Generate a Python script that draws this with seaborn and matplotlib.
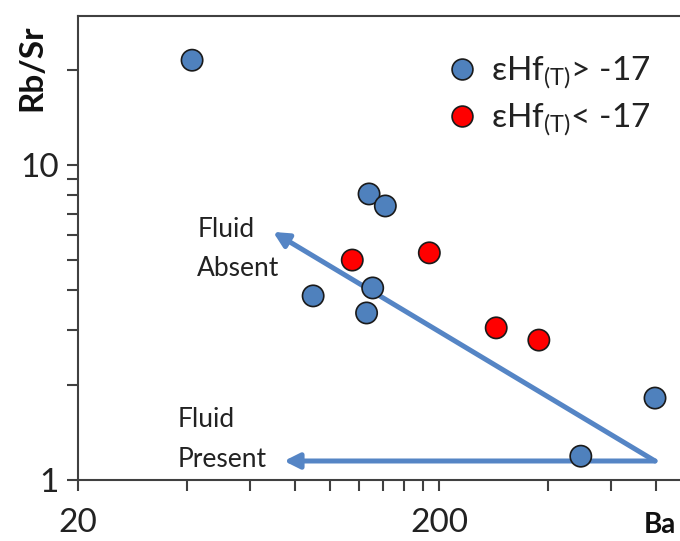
import numpy as np
import pandas as pd
import matplotlib
matplotlib.use("Agg")
import matplotlib.pyplot as plt
from matplotlib.lines import Line2D
import seaborn as sns

# data (Ba vs Rb/Sr, log-log)
ba_high = [41.4, 128, 142, 89.6, 131, 126, 494, 793]
rbsr_high = [21.5, 8.09, 7.41, 3.84, 4.07, 3.39, 1.19, 1.82]
ba_low = [115, 188, 288, 378]
rbsr_low = [4.99, 5.26, 3.04, 2.78]
groups = ["εHf$_{(T)}$> -17", "εHf$_{(T)}$< -17"]

# arrow end points (data coords)
arrow_start = (793, 1.149)
arrow_absent = (69.4, 6.13)
arrow_present = (74.4, 1.149)

sns.set_style("ticks")
plt.rcParams["font.family"] = ["Lato", "DejaVu Sans"]
plt.rcParams["mathtext.fontset"] = "custom"
plt.rcParams["mathtext.rm"] = "Lato"
plt.rcParams["mathtext.default"] = "regular"

df = pd.DataFrame({
    "Ba": ba_high + ba_low,
    "RbSr": rbsr_high + rbsr_low,
    "group": [groups[0]] * len(ba_high) + [groups[1]] * len(ba_low),
})

blue = "#4F81BD"
red = "#FF0000"
line_blue = "#5585C5"
txt = "#222222"

fig = plt.figure(figsize=(6.8, 5.41), dpi=100)
ax = fig.add_axes([78 / 680, 1 - 480 / 541, 1 - 78 / 680, (480 - 16) / 541])

for a, b in [(arrow_start, arrow_absent), (arrow_start, arrow_present)]:
    ax.annotate("", xy=b, xytext=a,
                arrowprops=dict(arrowstyle="-|>,head_length=0.9,head_width=0.45",
                                color=line_blue, lw=3.6, shrinkA=0, shrinkB=0))

sns.scatterplot(data=df, x="Ba", y="RbSr", hue="group",
                palette={groups[0]: blue, groups[1]: red},
                s=235, edgecolor="#1a1a1a", linewidth=1.2, ax=ax, zorder=3,
                legend=False)

ax.set_xscale("log")
ax.set_yscale("log")
ax.set_xlim(20, 930)
ax.set_ylim(1, 29.7)

ax.set_xticks([20, 200])
ax.set_xticklabels(["20", "200"])
ax.set_xticks([40, 60, 80, 100, 120, 140, 160, 180, 400, 600, 800], minor=True)
ax.set_yticks([1, 10])
ax.set_yticklabels(["1", "10"])
ax.set_yticks([2, 3, 4, 5, 6, 7, 8, 9, 20], minor=True)
ax.xaxis.set_minor_formatter(plt.NullFormatter())
ax.yaxis.set_minor_formatter(plt.NullFormatter())

ax.tick_params(axis="both", which="both", direction="out", length=8,
               width=1.5, color="#404040", labelsize=24, labelcolor=txt)
ax.tick_params(axis="x", pad=12)
ax.tick_params(axis="y", pad=6)

for side in ["left", "bottom", "top"]:
    ax.spines[side].set_color("#404040")
    ax.spines[side].set_linewidth(1.5)
ax.spines["right"].set_visible(False)
ax.set_xlabel("")
ax.set_ylabel("")

fig.text(676 / 680, 1 - 538 / 541, "Ba", fontsize=20, fontweight="bold",
         ha="right", va="bottom", color="#111111")
fig.text(32 / 680, 1 - 68 / 541, "Rb/Sr", fontsize=24, fontweight="bold",
         rotation=90, ha="center", va="center", color="#111111")

ax.text(0.199, 0.524, "Fluid", fontsize=19, ha="left", va="baseline",
        color=txt, transform=ax.transAxes)
ax.text(0.198, 0.440, "Absent", fontsize=19, ha="left", va="baseline",
        color=txt, transform=ax.transAxes)
ax.text(0.166, 0.114, "Fluid", fontsize=19, ha="left", va="baseline",
        color=txt, transform=ax.transAxes)
ax.text(0.166, 0.028, "Present", fontsize=19, ha="left", va="baseline",
        color=txt, transform=ax.transAxes)

handles = [Line2D([], [], marker="o", ls="", markersize=15, markerfacecolor=blue,
                  markeredgecolor="#1a1a1a", markeredgewidth=1.2),
           Line2D([], [], marker="o", ls="", markersize=15, markerfacecolor=red,
                  markeredgecolor="#1a1a1a", markeredgewidth=1.2)]
leg = ax.legend(handles, groups, loc="upper left", bbox_to_anchor=(0.561, 0.981),
                frameon=False, fontsize=24, handletextpad=0.35, labelspacing=0.3,
                handlelength=1.0)
for t in leg.get_texts():
    t.set_color(txt)

fig.savefig("out.png", dpi=100)
